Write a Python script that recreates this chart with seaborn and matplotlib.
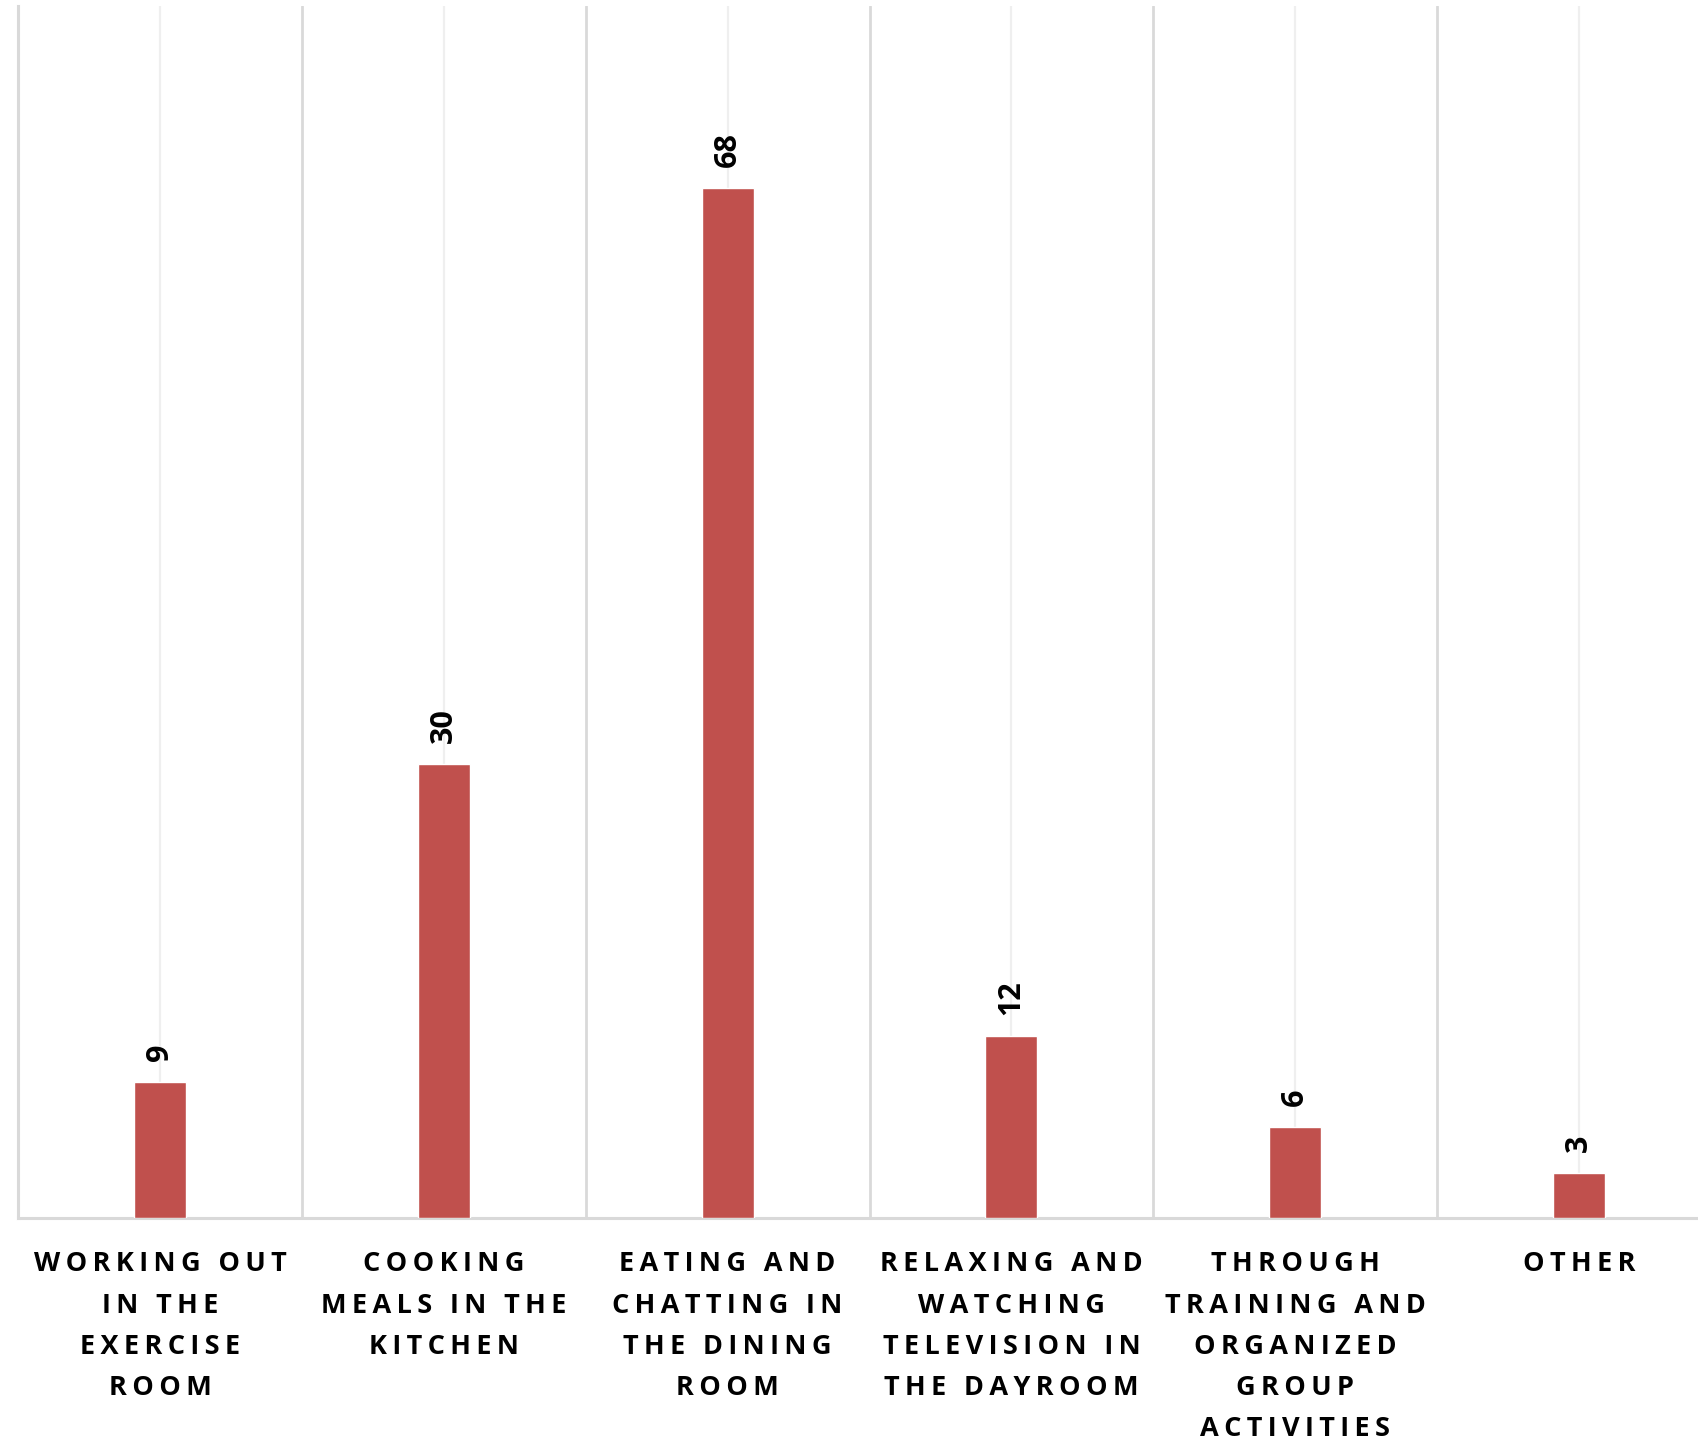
import matplotlib
matplotlib.use("Agg")
import matplotlib.pyplot as plt
import seaborn as sns
import pandas as pd

categories = [
    "WORKING OUT\nIN THE\nEXERCISE\nROOM",
    "COOKING\nMEALS IN THE\nKITCHEN",
    "EATING AND\nCHATTING IN\nTHE DINING\nROOM",
    "RELAXING AND\nWATCHING\nTELEVISION IN\nTHE DAYROOM",
    "THROUGH\nTRAINING AND\nORGANIZED\nGROUP\nACTIVITIES",
    "OTHER",
]
values = [9, 30, 68, 12, 6, 3]

bar_color = "#C0504D"
grid_major = "#D9D9D9"
grid_minor = "#EFEFEF"

sns.set_theme(style="white")
plt.rcParams["font.family"] = ["Open Sans", "DejaVu Sans"]


def tracked(label, gap="\u2009"):
    """Widen letter spacing by putting a thin space between characters."""
    return "\n".join(gap.join(line) for line in label.split("\n"))


df = pd.DataFrame({"category": categories, "value": values})

fig = plt.figure(figsize=(16.98, 14.42), dpi=100)
ax = fig.add_axes([0.01084, 0.1553, 1.0025, 0.8402])

sns.barplot(data=df, x="category", y="value", color=bar_color,
            width=0.183, saturation=1, ax=ax, zorder=3)

ax.set_xlim(-0.5, len(categories) - 0.5)
ax.set_ylim(0, 80)

# light lines through the category centres, darker ones between categories
for i in range(len(categories)):
    ax.axvline(i, color=grid_minor, lw=1.6, zorder=1)
    ax.axvline(i + 0.5, color=grid_major, lw=2.0, zorder=1)

for s in ["top", "right"]:
    ax.spines[s].set_visible(False)
for s in ["left", "bottom"]:
    ax.spines[s].set_color(grid_major)
    ax.spines[s].set_linewidth(2.2)

ax.set_yticks([])
ax.set_xlabel("")
ax.set_ylabel("")
ax.tick_params(axis="x", length=0, pad=24)
ax.set_xticks(range(len(categories)))
ax.set_xticklabels([tracked(c) for c in categories], fontsize=19.5,
                   fontweight="bold", color="black", linespacing=1.76,
                   va="top")

for i, v in enumerate(values):
    ax.annotate(str(v), xy=(i, v), xytext=(0, 15),
                textcoords="offset points", rotation=90, ha="center",
                va="bottom", fontsize=22, fontweight="bold", color="black")

fig.savefig("out.png", dpi=100)
